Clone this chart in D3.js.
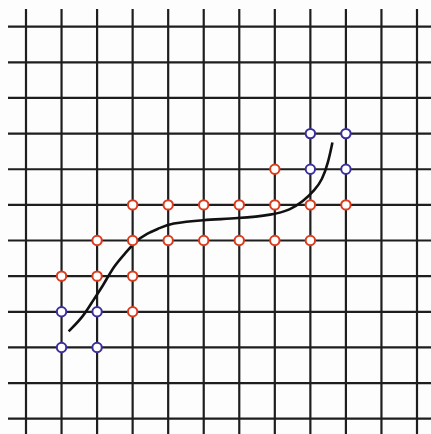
<!DOCTYPE html>
<html>
<head>
<meta charset="utf-8">
<script src="https://cdn.jsdelivr.net/npm/d3@7"></script>
<style>
body { margin: 0; background: #fff; }
</style>
</head>
<body>
<div class="container"></div>
<script>
// grid positions (column / row numbers, y counted from the bottom)
var gridCols = d3.range(12);
var gridRows = d3.range(12);

// red open circles
var redX = [7, 3, 4, 5, 6, 7, 8, 9, 2, 3, 4, 5, 6, 7, 8, 1, 2, 3, 3];
var redY = [7, 6, 6, 6, 6, 6, 6, 6, 5, 5, 5, 5, 5, 5, 5, 4, 4, 4, 3];

// blue open circles
var blueX = [8, 9, 8, 9, 1, 2, 1, 2];
var blueY = [8, 8, 7, 7, 3, 3, 2, 2];

// the curve
var curveX = [1.20, 1.61, 1.89, 2.18, 2.46, 2.79, 3.07, 3.40, 3.77, 4.05, 4.98, 5.96, 6.95, 7.43, 7.79, 8.13, 8.33, 8.50, 8.62];
var curveY = [2.45, 2.86, 3.33, 3.75, 4.27, 4.64, 4.97, 5.20, 5.35, 5.48, 5.58, 5.62, 5.72, 5.86, 6.09, 6.42, 6.70, 7.18, 7.75];

var w = 431, h = 434;

var svg = d3.select(".container")
	.append("svg")
	.attr("width", w)
	.attr("height", h)
	.style("display", "block");

svg.append("rect").attr("width", w).attr("height", h).attr("fill", "#fdfdfd");

var x = d3.scaleLinear().domain([0, 11]).range([26, 417]);
var y = d3.scaleLinear().domain([0, 11]).range([418.7, 26.7]);

// grid
svg.selectAll("line.v")
	.data(gridCols)
	.enter().append("line")
	.attr("class", "v")
	.attr("x1", function(d) { return x(d); })
	.attr("x2", function(d) { return x(d); })
	.attr("y1", 9)
	.attr("y2", h)
	.style("stroke", "#1e1e1e")
	.style("stroke-width", 2.2);

svg.selectAll("line.h")
	.data(gridRows)
	.enter().append("line")
	.attr("class", "h")
	.attr("y1", function(d) { return y(d); })
	.attr("y2", function(d) { return y(d); })
	.attr("x1", 8)
	.attr("x2", w)
	.style("stroke", "#1e1e1e")
	.style("stroke-width", 2.2);

// curve - basis smooths out the reading noise
var pts = curveX.map(function(d, i) { return [d, curveY[i]]; });
var line = d3.line()
	.x(function(d) { return x(d[0]); })
	.y(function(d) { return y(d[1]); })
	.curve(d3.curveBasis);

svg.append("path")
	.datum(pts)
	.attr("d", line)
	.style("fill", "none")
	.style("stroke", "#111")
	.style("stroke-width", 2.6)
	.style("stroke-linecap", "butt");

function drawDots(xs, ys, color) {
	svg.append("g").selectAll("circle")
		.data(xs.map(function(d, i) { return [d, ys[i]]; }))
		.enter().append("circle")
		.attr("cx", function(d) { return x(d[0]); })
		.attr("cy", function(d) { return y(d[1]); })
		.attr("r", 4.7)
		.style("fill", "#fff")
		.style("stroke", color)
		.style("stroke-width", 2);
}

drawDots(redX, redY, "#dc3a1c");
drawDots(blueX, blueY, "#3a2f9c");
</script>
</body>
</html>
